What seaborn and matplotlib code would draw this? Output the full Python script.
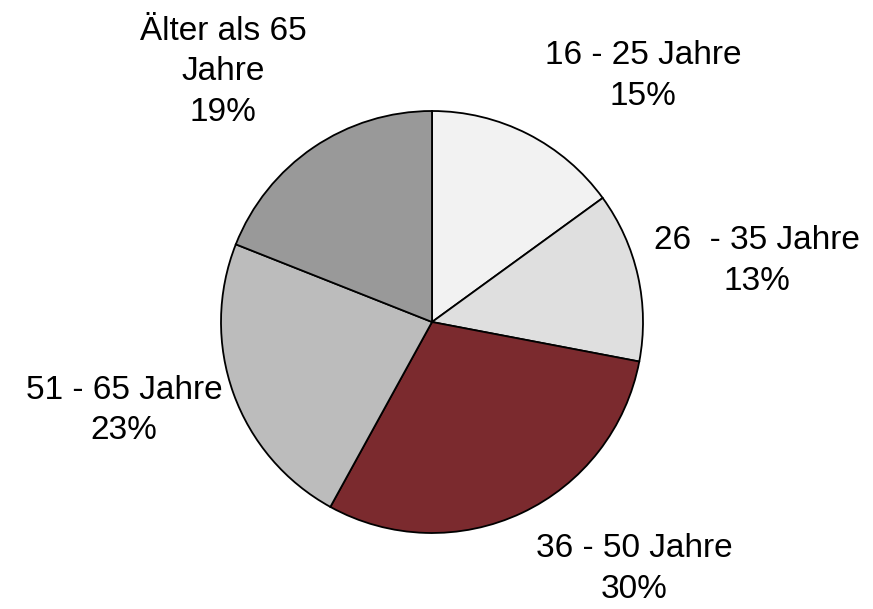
import matplotlib
matplotlib.use("Agg")
import matplotlib.pyplot as plt
import seaborn as sns

# Altersverteilung (Anteile in %)
categories = ["16 - 25 Jahre", "26  - 35 Jahre", "36 - 50 Jahre", "51 - 65 Jahre", "Älter als 65\nJahre"]
shares = [15, 13, 30, 23, 19]
colors = ["#f2f2f2", "#dfdfdf", "#7b2a2e", "#bcbcbc", "#999999"]

# label block centres (in pie radii), as placed in the original
label_pos = [(1.00, 1.165), (1.54, 0.29), (0.96, -1.17), (-1.46, -0.42), (-0.99, 1.185)]

sns.set_theme(style="white")
plt.rcParams['font.family'] = ['Liberation Sans', 'DejaVu Sans']

labels = [f"{c}\n{v}%" for c, v in zip(categories, shares)]

fig = plt.figure(figsize=(8.73, 6.09), dpi=100)
ax = fig.add_axes([0, 0, 1, 1])

# pie: clockwise from 12 o'clock
wedges, texts = ax.pie(shares, labels=labels, colors=colors, startangle=90,
                       counterclock=False,
                       wedgeprops=dict(edgecolor='black', linewidth=1.3),
                       textprops=dict(fontsize=24, color='black', linespacing=1.4))
for t, pos in zip(texts, label_pos):
    t.set_position(pos)
    t.set_ha('center')
    t.set_va('center')
    t.set_multialignment('center')

# place the pie: centre at (432, 322) px, radius 211 px
r = 211
ax.set_xlim(-432 / r, (873 - 432) / r)
ax.set_ylim(-(609 - 322) / r, 322 / r)
ax.set_aspect('equal')
ax.axis('off')

fig.savefig("out.png", dpi=100)
